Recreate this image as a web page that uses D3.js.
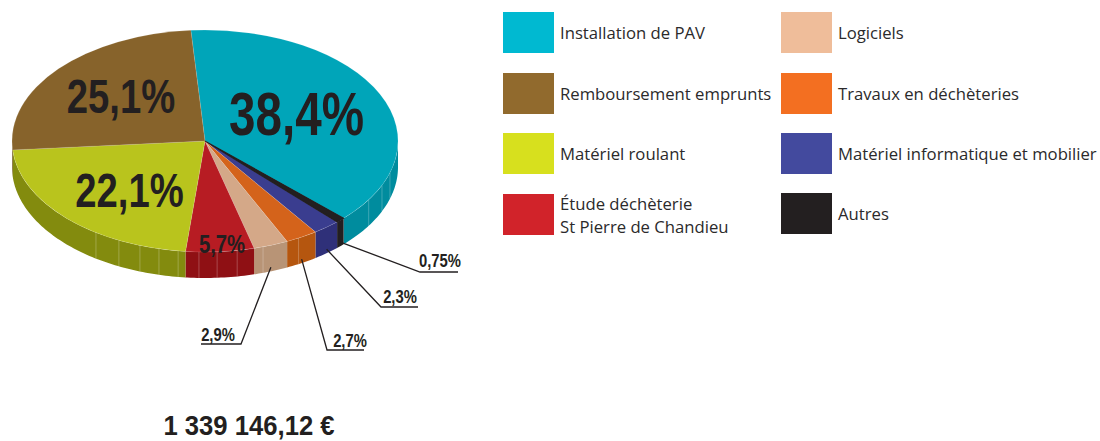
<!DOCTYPE html>
<html>
<head>
<meta charset="utf-8">
<script src="https://d3js.org/d3.v7.min.js"></script>
<style>
  html, body { margin: 0; padding: 0; background: #fff; }
  svg { display: block; }
  .legend_text { font-family: "Open Sans", "Noto Sans", sans-serif; font-size: 16.7px; fill: #2b2a2b; }
  .pct { font-family: "Liberation Sans", sans-serif; font-weight: bold; fill: #231f20; }
</style>
</head>
<body>
<div id="chart"></div>
<script>
var categories = ["Installation de PAV", "Autres", "Matériel informatique et mobilier", "Travaux en déchèteries", "Logiciels", "Étude déchèterie|St Pierre de Chandieu", "Matériel roulant", "Remboursement emprunts"]
var values = [38.4, 0.75, 2.3, 2.7, 2.9, 5.7, 22.1, 25.1]
var value_labels = ["38,4%", "0,75%", "2,3%", "2,7%", "2,9%", "5,7%", "22,1%", "25,1%"]
var top_colors = ["#00a5b9", "#231f20", "#3a3d8f", "#d4631b", "#d4a888", "#b71c23", "#b9c41d", "#87632b"]
var wall_colors = ["#008c9e", "#231f20", "#2f3079", "#b5560f", "#b89476", "#8f1014", "#838b0e", "#6b4e20"]
var legend_colors = ["#00b9d1", "#231f20", "#434a9e", "#f36f21", "#efbd9a", "#d1232a", "#d7e01e", "#916a2d"]
var total_label = "1 339 146,12 €"

// Facet lines on the side of the pie, degrees clockwise from 12 o'clock
var rib_angles = [106.6, 113.5, 122, 151, 162.5, 170.4, 176.4, 181.8, 188, 193.8, 199.7, 206.5, 214.4]

var dims = {
  "width": 1100, "height": 441,
  "cx": 205, "cy": 141, "rx": 193, "ry": 111, "depth": 26,
  "start_deg": -4.2,
  "narrow": 0.78 // no condensed bold installed, so squeeze Liberation Sans
}

// Legend slots, by index into categories
var legend_layout = [
  { "i": 0, "x": 503, "y": 12, "tx": 560 },
  { "i": 7, "x": 503, "y": 73, "tx": 560 },
  { "i": 6, "x": 503, "y": 133, "tx": 560 },
  { "i": 5, "x": 503, "y": 194, "tx": 560 },
  { "i": 4, "x": 781, "y": 12, "tx": 838 },
  { "i": 3, "x": 781, "y": 73, "tx": 838 },
  { "i": 2, "x": 781, "y": 133, "tx": 838 },
  { "i": 1, "x": 781, "y": 193, "tx": 838 }
]

// Labels printed on the pie
var inner_layout = [
  { "i": 0, "x": 296.5, "y": 135, "size": 61 },
  { "i": 7, "x": 121, "y": 113, "size": 49 },
  { "i": 6, "x": 129.5, "y": 207, "size": 49 },
  { "i": 5, "x": 222, "y": 253, "size": 26 }
]

// Labels on leader lines: elbow, end of the underline, text position
var leader_layout = [
  { "i": 1, "elbow": [420, 272], "end": [458, 272], "tx": 440, "ty": 267 },
  { "i": 2, "elbow": [381, 307], "end": [418, 307], "tx": 400, "ty": 303 },
  { "i": 3, "elbow": [327, 350], "end": [364, 350], "tx": 350, "ty": 347 },
  { "i": 4, "elbow": [241, 344], "end": [201, 344], "tx": 218, "ty": 341 }
]

var svg = d3.select("#chart").append("svg")
  .attr("width", dims.width)
  .attr("height", dims.height)

var rad = Math.PI / 180
var start = dims.start_deg * rad

var slices = d3.pie()
  .sort(null)
  .startAngle(start)
  .endAngle(start + 2 * Math.PI)(values)

function rimPoint(angle, drop) {
  return [dims.cx + dims.rx * Math.sin(angle), dims.cy - dims.ry * Math.cos(angle) + drop]
}

// Side of a slice: only the part between 3 and 9 o'clock can be seen
function wallPath(a0, a1) {
  var from = Math.max(a0, 90 * rad), to = Math.min(a1, 270 * rad)
  if (to <= from) return null
  var steps = d3.range(from, to, rad).concat([to])
  var upper = steps.map(function (a) { return rimPoint(a, 0) })
  var lower = steps.slice().reverse().map(function (a) { return rimPoint(a, dims.depth) })
  return d3.line()(upper.concat(lower)) + "Z"
}

function narrowAt(x, y) {
  return "translate(" + x + "," + y + ") scale(" + dims.narrow + ",1)"
}

var walls = svg.append("g").attr("class", "walls")
walls.selectAll("path")
  .data(slices)
  .join("path")
    .attr("d", function (d) { return wallPath(d.startAngle, d.endAngle) })
    .attr("fill", function (d, i) { return wall_colors[i] })

walls.selectAll("line")
  .data(rib_angles)
  .join("line")
    .attr("x1", function (d) { return rimPoint(d * rad, 0)[0] })
    .attr("y1", function (d) { return rimPoint(d * rad, 0)[1] })
    .attr("x2", function (d) { return rimPoint(d * rad, dims.depth)[0] })
    .attr("y2", function (d) { return rimPoint(d * rad, dims.depth)[1] })
    .attr("stroke", "#fff")
    .attr("stroke-opacity", 0.3)
    .attr("stroke-width", 0.8)

// Top of the pie: a circle squashed to the ellipse
var arc = d3.arc().innerRadius(0).outerRadius(dims.rx)
var top_space = svg.append("g")
  .attr("class", "top")
  .attr("transform", "translate(" + dims.cx + "," + dims.cy + ") scale(1," + (dims.ry / dims.rx) + ")")

top_space.selectAll("path")
  .data(slices)
  .join("path")
    .attr("d", arc)
    .attr("fill", function (d, i) { return top_colors[i] })
    .attr("stroke", "#fff")
    .attr("stroke-opacity", 0.25)
    .attr("stroke-width", 0.6)

// The thin black slice stays a line all the way to the centre
top_space.append("path")
  .datum(slices[1])
  .attr("d", arc)
  .attr("fill", top_colors[1])
  .attr("stroke", top_colors[1])
  .attr("stroke-width", 1.6)

svg.append("g").selectAll("text")
  .data(inner_layout)
  .join("text")
    .attr("class", "pct")
    .attr("transform", function (d) { return narrowAt(d.x, d.y) })
    .attr("text-anchor", "middle")
    .attr("font-size", function (d) { return d.size })
    .text(function (d) { return value_labels[d.i] })

// Leaders start on the side of their slice
var leaders = svg.append("g").attr("class", "leaders")
leaders.selectAll("polyline")
  .data(leader_layout)
  .join("polyline")
    .attr("points", function (d) {
      var s = slices[d.i]
      var p = rimPoint((s.startAngle + s.endAngle) / 2, dims.depth - 4)
      return [p, d.elbow, d.end].map(function (q) { return q.join(",") }).join(" ")
    })
    .attr("fill", "none")
    .attr("stroke", "#231f20")
    .attr("stroke-width", 1.3)

leaders.selectAll("text")
  .data(leader_layout)
  .join("text")
    .attr("class", "pct")
    .attr("transform", function (d) { return narrowAt(d.tx, d.ty) })
    .attr("text-anchor", "middle")
    .attr("font-size", 19)
    .text(function (d) { return value_labels[d.i] })

var legend = svg.append("g").attr("class", "legend")
legend.selectAll("rect")
  .data(legend_layout)
  .join("rect")
    .attr("x", function (d) { return d.x })
    .attr("y", function (d) { return d.y })
    .attr("width", 51)
    .attr("height", 41)
    .attr("fill", function (d) { return legend_colors[d.i] })

legend.selectAll("text")
  .data(legend_layout)
  .join("text")
    .attr("class", "legend_text")
    .each(function (d) {
      var rows = categories[d.i].split("|")
      var y0 = d.y + 21 + 6 - (rows.length - 1) * 11.5
      d3.select(this).selectAll("tspan")
        .data(rows)
        .join("tspan")
          .attr("x", d.tx)
          .attr("y", function (r, k) { return y0 + k * 23 })
          .text(function (r) { return r })
    })

svg.append("text")
  .attr("class", "pct")
  .attr("transform", "translate(249,434.5) scale(0.9,1)")
  .attr("text-anchor", "middle")
  .attr("font-size", 28.5)
  .text(total_label)
</script>
</body>
</html>
